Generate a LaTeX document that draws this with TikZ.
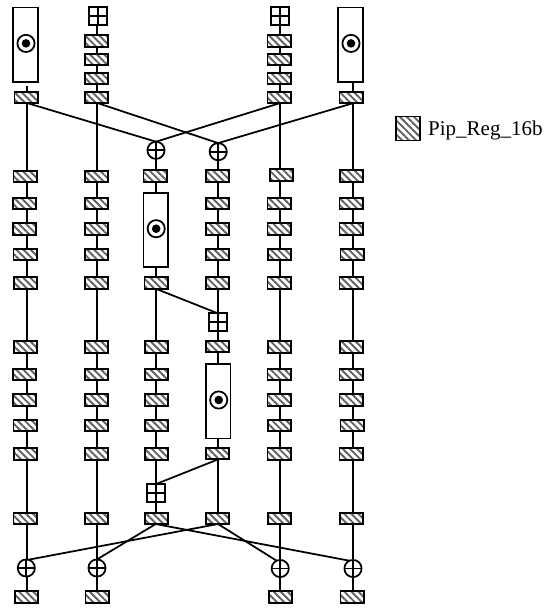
\documentclass[tikz,border=0pt]{standalone}
\usepackage{fontspec}
\setmainfont{Liberation Serif}
\usetikzlibrary{patterns.meta,backgrounds}
\tikzset{
  x=1pt,y=-1pt,
  wire/.style={line width=1.75pt,black},
  regbox/.style={draw=black,line width=1.9pt,minimum width=23.1pt,minimum height=11.4pt,inner sep=0pt,outer sep=0pt,
    preaction={fill=white},
    pattern={Lines[angle=-45,distance=5pt,line width=1.9pt]},pattern color=black!62},
  legbox/.style={regbox,minimum width=24pt,minimum height=24pt},
  crossmark/.style={path picture={\draw[line width=1.75pt] (path picture bounding box.north)--(path picture bounding box.south)
      (path picture bounding box.west)--(path picture bounding box.east);}},
  plusbox/.style={draw=black,line width=1.75pt,fill=white,minimum size=18pt,inner sep=0pt,outer sep=0pt,crossmark},
  xorc/.style={draw=black,circle,line width=1.75pt,fill=white,minimum size=17.2pt,inner sep=0pt,outer sep=0pt,crossmark},
  mulbox/.style={draw=black,line width=1.75pt,fill=white,minimum width=24.6pt,minimum height=74.3pt,inner sep=0pt,outer sep=0pt,
    path picture={\draw[line width=1.75pt,black] ([shift={(0.5,-1.3)}]path picture bounding box.center) circle[radius=8.6pt];
      \fill[black] ([shift={(0.5,-1.3)}]path picture bounding box.center) circle[radius=4.3pt];}},
  legtext/.style={font=\fontsize{21}{21}\selectfont,anchor=base west,inner sep=0pt},
}
\begin{document}
\begin{tikzpicture}
\useasboundingbox (0,0) rectangle (545,608);
% wire columns
\coordinate (wa) at (27,0);
\coordinate (wb) at (97.3,0);
\coordinate (wc) at (155.7,0);
\coordinate (wd) at (218,0);
\coordinate (we) at (280.3,0);
\coordinate (wf) at (352.7,0);
\coordinate (astub) at (27,86);
% registers: column name / y / x
\foreach \n/\y/\x in {
  a/97.3/26,a/176.3/25,a/203.3/24.2,a/229/24.2,a/254.3/25,a/283/25.8,a/347/25.8,a/374.3/24.2,a/400/24.2,a/425.7/25,a/454/25.8,a/518.3/25,a/597/26.5,
  b/41/96.5,b/59.3/96.5,b/78.3/96.5,b/97.3/96.5,b/176.5/96.5,b/203.3/96.5,b/229/96.5,b/254.3/96.5,b/283/96.5,b/347/96.5,b/374.3/96.5,b/400/96.5,b/425.7/96.5,b/454/96.5,b/518.3/96.5,b/597/97,
  c/176/155,c/283/156,c/347/156.7,c/374.3/156.7,c/400/156.7,c/425.7/156.7,c/454/156.7,c/518.3/156.5,
  d/176/217.8,d/203.3/217.3,d/229/217.3,d/254.3/217.8,d/283/217.3,d/346.7/217.5,d/453.7/217.3,d/518.3/217.8,
  e/41/279,e/59.3/279,e/78.3/279,e/97.3/279,e/175/281.5,e/203.3/279,e/229/279,e/254.3/279.8,e/283/279,e/347/279.8,e/374.3/279,e/400/279,e/425.7/279.8,e/454/279,e/518.3/279.8,e/597/280.2,
  f/97.6/351,f/176/351.5,f/203.3/351,f/229/351,f/254.3/352,f/283/351,f/347/351.5,f/374.3/351,f/400/351,f/425.7/352,f/454/351,f/518.3/351.5,f/597/352}{
  \pgfmathtruncatemacro{\nm}{\y}
  \node[regbox] (\n\nm) at (\x,\y) {};
}
\node[plusbox] (bp) at (97.8,15.8) {};
\node[plusbox] (ep) at (279.7,15.8) {};
\node[plusbox] (dp) at (217.8,322.3) {};
\node[plusbox] (cp) at (156.2,493) {};
\node[xorc] (cx) at (156,150.3) {};
\node[xorc] (dx) at (218.2,151.7) {};
\node[xorc] (ax) at (26.3,568) {};
\node[xorc] (bx) at (97,568) {};
\node[xorc] (ex) at (280.2,568.5) {};
\node[xorc] (fx) at (353,568.5) {};
\node[mulbox] (am) at (25.5,44.7) {};
\node[mulbox] (fm) at (350.5,44.7) {};
\node[mulbox] (cm) at (155.7,230) {};
\node[mulbox] (dm) at (218.2,401.3) {};
% legend
\node[legbox] (leg) at (408,128.5) {};
\node[legtext] (legt) at (428,135) {Pip\_Reg\_16b};
% wires
\begin{scope}[on background layer]
\draw[wire] (astub)--(wa |- a597);
\draw[wire] (wb |- bp)--(wb |- b597);
\draw[wire] (wc |- cx)--(wc |- c518);
\draw[wire] (wd |- dx)--(wd |- d518);
\draw[wire] (we |- ep)--(we |- e597);
\draw[wire] (wf |- fm)--(wf |- f597);
\draw[wire] (wa |- a97.south)--(cx.north);
\draw[wire] (we |- e97.south)--(cx.north);
\draw[wire] (wb |- b97.south)--(dx.north);
\draw[wire] (wf |- f97.south)--(dx.north);
\draw[wire] (wc |- c283.south)--(dp.north);
\draw[wire] (wd |- d453.south)--(cp.north);
\draw[wire] (wc |- c518.south)--(bx.north);
\draw[wire] (wc |- c518.south)--(fx.115);
\draw[wire] (wd |- d518.south)--(ax.75);
\draw[wire] (wd |- d518.south)--(ex.115);
\end{scope}
\end{tikzpicture}
\end{document}
